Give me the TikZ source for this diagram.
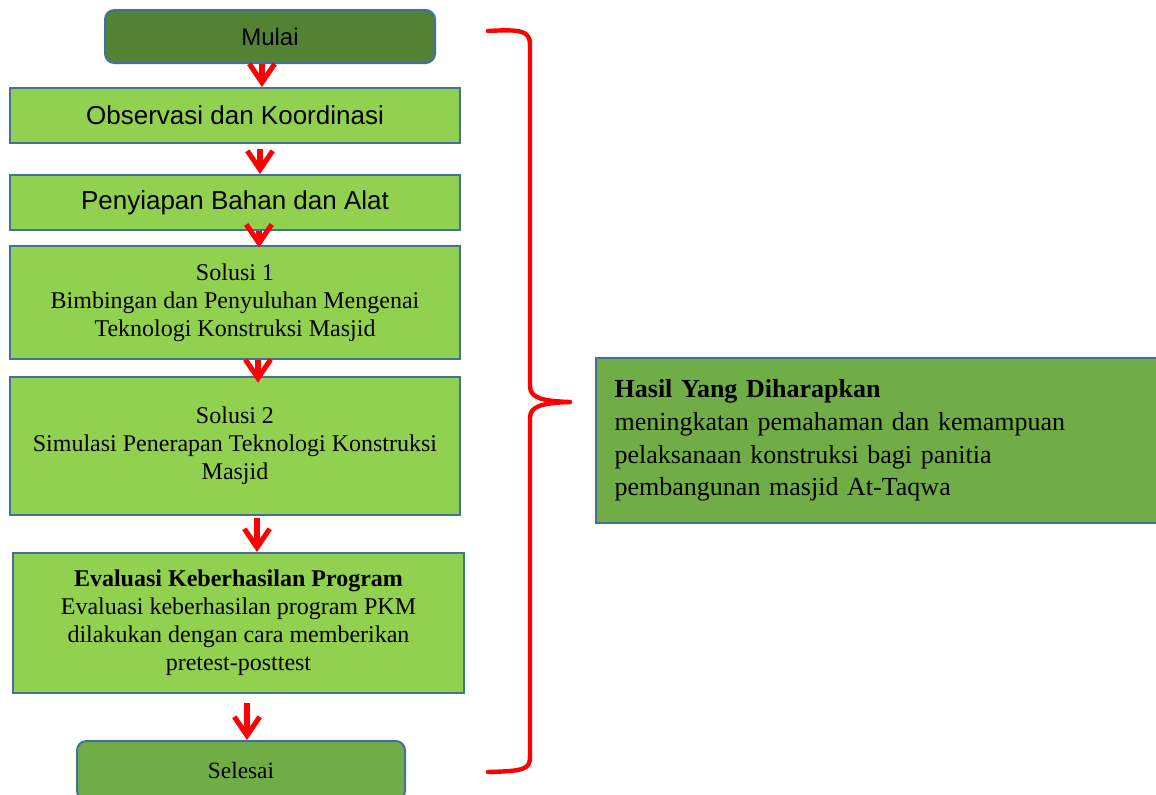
\documentclass[tikz,border=0pt]{standalone}
\usepackage{fontspec}
\setmainfont{Liberation Serif}
\setsansfont{Liberation Sans}
\usetikzlibrary{arrows.meta}
\definecolor{darkg}{HTML}{548235}
\definecolor{midg}{HTML}{70AD47}
\definecolor{lightg}{HTML}{92D050}
\definecolor{bordb}{HTML}{41719C}
\definecolor{redarr}{HTML}{FF0000}
\tikzset{
  box/.style={draw=bordb, line width=1.5pt, inner sep=0pt, align=center, text=black},
  stepbox/.style={box, fill=lightg},
  termbox/.style={box, rounded corners=7pt},
  sansbig/.style={font=\sffamily\fontsize{19.5}{22}\selectfont},
  serifbig/.style={font=\fontsize{18}{21}\selectfont},
  arr/.style={draw=redarr, line width=3.8pt, -{Straight Barb[length=14pt,width=19pt,line width=3.8pt]}},
  brace/.style={draw=redarr, line width=3.3pt, line cap=round, line join=round}
}
\begin{document}
\begin{tikzpicture}[x=0.75pt,y=-0.75pt]
\useasboundingbox (0,0) rectangle (1156,794);
\clip (0,0) rectangle (1156,794);
\node[termbox, fill=darkg, minimum width=247.5pt, minimum height=39.75pt, font=\sffamily\fontsize{18}{20}\selectfont] (mulai) at (270,36.5) {Mulai};
\node[stepbox, sansbig, minimum width=337.5pt, minimum height=41.25pt] (obs) at (235,115.5) {Observasi dan Koordinasi};
\node[stepbox, sansbig, minimum width=337.5pt, minimum height=41.25pt] (siap) at (235,202.5) {Penyiapan Bahan dan Alat};
\node[stepbox, serifbig, minimum width=337.5pt, minimum height=84.75pt] (sol1) at (235,302.5) {Solusi 1\\Bimbingan dan Penyuluhan Mengenai\\Teknologi Konstruksi Masjid};
\node[stepbox, serifbig, minimum width=337.5pt, minimum height=103.5pt] (sol2) at (235,446) {Solusi 2\\Simulasi Penerapan Teknologi Konstruksi\\Masjid};
\node[stepbox, serifbig, minimum width=338.25pt, minimum height=105pt] (eval) at (238.5,623) {\textbf{Evaluasi Keberhasilan Program}\\Evaluasi keberhasilan program PKM\\dilakukan dengan cara memberikan\\pretest-posttest};
\node[termbox, fill=midg, minimum width=246pt, minimum height=44.25pt, font=\fontsize{17.5}{20}\selectfont, text depth=0pt] (selesai) at (241,770.5) {Selesai};
\node[box, fill=midg, minimum width=426pt, minimum height=123.75pt, text width=398pt, align=left, inner xsep=14pt, font=\fontsize{19.5}{24.5}\selectfont] (hasil) at (880,440.5) {\textbf{Hasil Yang Diharapkan}\\meningkatan pemahaman dan kemampuan\\pelaksanaan konstruksi bagi panitia\\pembangunan masjid At-Taqwa};
% arrows
\coordinate (a1) at (262,0);
\coordinate (a2) at (260,0);
\coordinate (a3) at (259,0);
\coordinate (a4) at (258,0);
\coordinate (a5) at (257,0);
\coordinate (a6) at (247,0);
\draw[arr] (mulai.south -| a1) -- (obs.north -| a1);
\draw[arr, shorten <=4pt] (obs.south -| a2) -- (siap.north -| a2);
\draw[arr, shorten >=-2pt] (siap.south -| a3) -- (sol1.north -| a3);
\draw[arr, shorten >=-5pt] (sol1.south -| a4) -- (sol2.north -| a4);
\draw[arr, shorten <=1.5pt] (sol2.south -| a5) -- (eval.north -| a5);
\draw[arr, shorten <=7pt] (eval.south -| a6) -- (selesai.north -| a6);
% brace
\coordinate (bt) at (488,31);
\coordinate (bm) at (570,402);
\coordinate (bb) at (488,772);
\draw[brace] (bt) .. controls (522,29) and (530,31) .. (530,45) -- (530,386) .. controls (530,398) and (542,401) .. (bm) .. controls (542,403) and (530,406) .. (530,418) -- (530,757) .. controls (530,770) and (522,771) .. (bb);
\end{tikzpicture}
\end{document}
